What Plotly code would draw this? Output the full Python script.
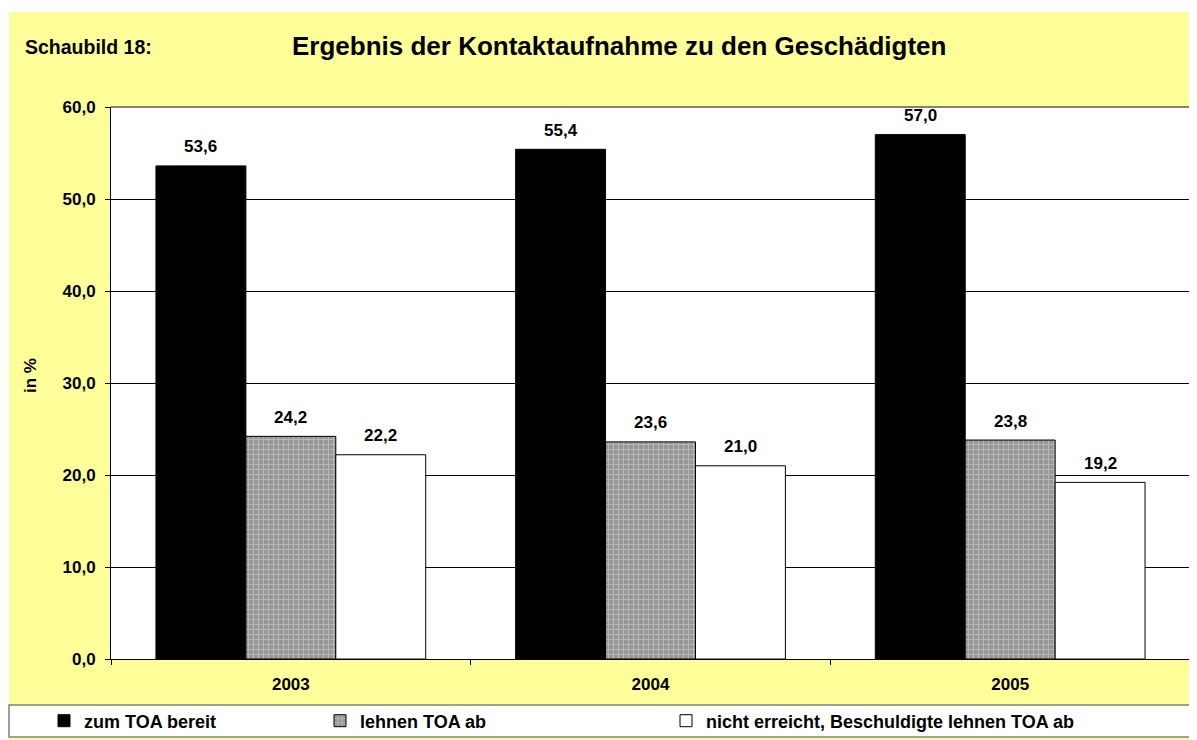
import plotly.graph_objects as go

# ---------------- data ----------------
years = ["2003", "2004", "2005"]
series_names = ["zum TOA bereit", "lehnen TOA ab", "nicht erreicht, Beschuldigte lehnen TOA ab"]
zum_toa_bereit = [53.6, 55.4, 57.0]
lehnen_toa_ab = [24.2, 23.6, 23.8]
nicht_erreicht = [22.2, 21.0, 19.2]
y_tick_values = [0, 10, 20, 30, 40, 50, 60]

title_text = "Ergebnis der Kontaktaufnahme zu den Geschädigten"
label_text = "Schaubild 18:"
y_title = "in %"

# ---------------- layout geometry (pixels, page coordinates) ----------------
OFF = 8                      # default body margin of the html page
PW, PH = 1197, 740           # page size
W, H = PW - OFF, PH - OFF    # figure size
L, R, T, B = 111, 1190, 107, 659   # plot area in page coordinates


def px(X):
    return (X - L) / (R - L)


def py(Y):
    return (B - Y) / (B - T)


FONT = "Arial, 'Liberation Sans', sans-serif"
YELLOW = "#FFFF99"
bold = dict(family=FONT, color="black", weight="bold")

series_values = [zum_toa_bereit, lehnen_toa_ab, nicht_erreicht]
styles = [
    dict(color="#000000"),
    dict(color="#A8A8A8",
         pattern=dict(shape="+", fgcolor="#D8D8D8", bgcolor="#969696", size=5, solidity=0.4)),
    dict(color="#FFFFFF"),
]
legend_ids = ["legend", "legend2", "legend3"]

fig = go.Figure()
for name, vals, st, lg in zip(series_names, series_values, styles, legend_ids):
    marker = dict(st)
    marker["line"] = dict(color="black", width=1)
    fig.add_trace(go.Bar(x=years, y=vals, name=name, marker=marker, legend=lg,
                         hoverinfo="skip"))

# value labels (through data coordinates)
annotations = []
n_series = len(series_values)
bar_w = 0.25
for j, vals in enumerate(series_values):
    for i, v in enumerate(vals):
        annotations.append(dict(
            x=i + (j - (n_series - 1) / 2) * bar_w, y=v, xref="x", yref="y",
            text=f"{v:.1f}".replace(".", ","), showarrow=False,
            yanchor="middle", yshift=19, font=dict(size=17, **bold)))

annotations += [
    dict(x=px(23), y=py(47), xref="paper", yref="paper", xanchor="left", yanchor="middle",
         text=label_text, showarrow=False, font=dict(size=19.5, **bold)),
    dict(x=px(619), y=py(46), xref="paper", yref="paper", xanchor="center", yanchor="middle",
         text=title_text, showarrow=False, font=dict(size=26, **bold)),
    dict(x=px(30), y=py(375), xref="paper", yref="paper", xanchor="center", yanchor="middle",
         text=y_title, textangle=-90, showarrow=False, font=dict(size=17, **bold)),
]

shapes = [
    # white outer strips
    dict(type="rect", xref="paper", yref="paper", x0=px(0), x1=px(PW + 5), y0=py(0), y1=py(12),
         fillcolor="white", line=dict(width=0), layer="below"),
    dict(type="rect", xref="paper", yref="paper", x0=px(0), x1=px(9), y0=py(0), y1=py(PH + 5),
         fillcolor="white", line=dict(width=0), layer="below"),
    # legend box
    dict(type="rect", xref="paper", yref="paper", x0=px(9), x1=px(1196), y0=py(737), y1=py(705),
         fillcolor="white", line=dict(color="#808080", width=1.5), layer="below"),
    # plot border top/right (gray)
    dict(type="path", xref="paper", yref="paper", path="M 0,1 L 1,1 L 1,0",
         line=dict(color="#808080", width=2), layer="above"),
]

legend_text_x = [84, 360, 706]
legend_common = dict(orientation="h", xref="container", yref="container",
                     xanchor="left", yanchor="middle", y=1 - (721 - OFF) / H,
                     bgcolor="rgba(0,0,0,0)", borderwidth=0,
                     font=dict(size=18, **bold))

fig.update_layout(
    width=W, height=H,
    margin=dict(l=L - OFF, r=PW - R, t=T - OFF, b=PH - B, pad=0),
    paper_bgcolor=YELLOW, plot_bgcolor="white",
    separators=",.",
    barmode="group", bargap=0.25, bargroupgap=0,
    showlegend=True,
    legend=dict(legend_common, x=(legend_text_x[0] - 40 - OFF) / W),
    legend2=dict(legend_common, x=(legend_text_x[1] - 40 - OFF) / W),
    legend3=dict(legend_common, x=(legend_text_x[2] - 40 - OFF) / W),
    annotations=annotations,
    shapes=shapes,
    xaxis=dict(type="category", showgrid=False, showline=True, linecolor="black", linewidth=1,
               ticks="outside", tickson="boundaries", ticklen=5, tickcolor="black",
               tickfont=dict(size=17, **bold), ticklabelstandoff=10, zeroline=False),
    yaxis=dict(range=[0, 60], tickvals=y_tick_values, tickformat=".1f",
               showgrid=True, gridcolor="black", gridwidth=1,
               showline=True, linecolor="black", linewidth=1, zeroline=False,
               ticks="outside", ticklen=5, tickcolor="black",
               tickfont=dict(size=17, **bold), ticklabelstandoff=6),
)

fig.write_html("out.html")
